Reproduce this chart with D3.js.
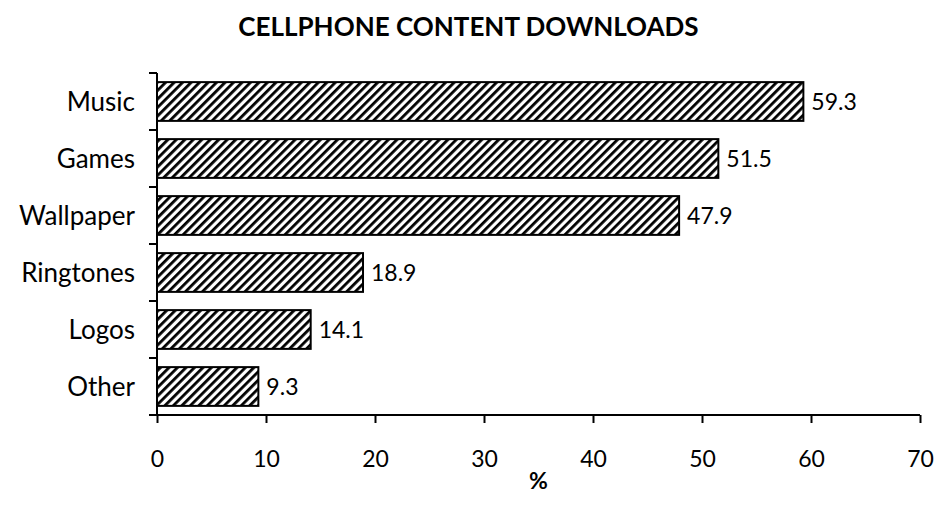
<!DOCTYPE html>
<html>
<head>
<meta charset="utf-8">
<script src="https://cdn.jsdelivr.net/npm/d3@7"></script>
<style>
  html, body { margin: 0; padding: 0; background: #fff; }
  svg { display: block; font-family: Lato, "Open Sans", sans-serif; }
</style>
</head>
<body>
<svg id="chart" width="937" height="516"></svg>
<script>
// Share of cellphone owners downloading each type of content (%)
const categories = ["Music", "Games", "Wallpaper", "Ringtones", "Logos", "Other"];
const values = [59.3, 51.5, 47.9, 18.9, 14.1, 9.3];
const xTicks = [0, 10, 20, 30, 40, 50, 60, 70];

const svg = d3.select("#chart");
const margin = { left: 157, right: 17, top: 73, bottom: 101 };
const W = 937, H = 516;

const x = d3.scaleLinear().domain([0, 70]).range([margin.left, W - margin.right]);
const y = d3.scaleBand().domain(categories).range([margin.top, H - margin.bottom]).paddingInner(0.32).paddingOuter(0.16);

// diagonal hatch fill
const defs = svg.append("defs");
const pat = defs.append("pattern")
  .attr("id", "hatch")
  .attr("patternUnits", "userSpaceOnUse")
  .attr("width", 6).attr("height", 6)
  .attr("patternTransform", "rotate(45)");
pat.append("rect").attr("width", 6).attr("height", 6).attr("fill", "#fff");
pat.append("rect").attr("x", 0).attr("y", 0).attr("width", 2.8).attr("height", 6).attr("fill", "#000");

// title
svg.append("text")
  .attr("x", W / 2).attr("y", 36)
  .attr("text-anchor", "middle")
  .attr("font-weight", "bold")
  .attr("font-size", 26)
  .text("CELLPHONE CONTENT DOWNLOADS");

// bars
svg.append("g").selectAll("rect")
  .data(categories)
  .join("rect")
  .attr("x", x(0))
  .attr("y", d => y(d))
  .attr("width", (d, i) => x(values[i]) - x(0))
  .attr("height", y.bandwidth())
  .attr("fill", "url(#hatch)")
  .attr("stroke", "#000")
  .attr("stroke-width", 2);

// value labels
svg.append("g").selectAll("text")
  .data(categories)
  .join("text")
  .attr("x", (d, i) => x(values[i]) + 8)
  .attr("y", d => y(d) + y.bandwidth() / 2 + 8.5)
  .attr("font-size", 23)
  .text((d, i) => values[i].toFixed(1));

// y axis: ticks on band boundaries
const yAxisG = svg.append("g");
yAxisG.append("line")
  .attr("x1", x(0)).attr("x2", x(0))
  .attr("y1", margin.top).attr("y2", H - margin.bottom)
  .attr("stroke", "#000").attr("stroke-width", 2);
const yEdges = d3.range(categories.length + 1).map(i => margin.top + i * y.step());
yAxisG.selectAll("line.tick")
  .data(yEdges)
  .join("line")
  .attr("class", "tick")
  .attr("x1", x(0) - 8).attr("x2", x(0))
  .attr("y1", d => d).attr("y2", d => d)
  .attr("stroke", "#000").attr("stroke-width", 2);
yAxisG.selectAll("text")
  .data(categories)
  .join("text")
  .attr("x", x(0) - 22)
  .attr("y", d => y(d) + y.bandwidth() / 2 + 9.5)
  .attr("text-anchor", "end")
  .attr("font-size", 26)
  .text(d => d);

// x axis
const xAxis = d3.axisBottom(x).tickValues(xTicks).tickSize(8).tickPadding(28).tickFormat(d3.format("d"));
const xg = svg.append("g")
  .attr("transform", `translate(0,${H - margin.bottom})`)
  .call(xAxis);
xg.select(".domain").attr("stroke", "#000").attr("stroke-width", 2).attr("d", `M${x(0)},0H${x(70)}`);
xg.selectAll(".tick line").attr("stroke", "#000").attr("stroke-width", 2);
xg.selectAll(".tick text").attr("font-size", 23).attr("font-family", "Lato, 'Open Sans', sans-serif").attr("fill", "#000");

// x axis title
svg.append("text")
  .attr("x", (x(0) + x(70)) / 2).attr("y", 489)
  .attr("text-anchor", "middle")
  .attr("font-weight", "bold")
  .attr("font-size", 23)
  .text("%");
</script>
</body>
</html>
